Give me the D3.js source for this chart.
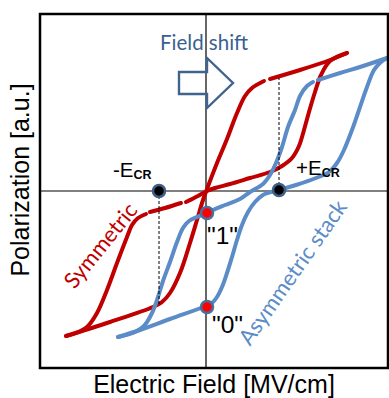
<!DOCTYPE html>
<html>
<head>
<meta charset="utf-8">
<script src="https://cdn.jsdelivr.net/npm/d3@7"></script>
<style>
  html, body { margin: 0; padding: 0; background: #fff; }
  svg { display: block; }
</style>
</head>
<body>
<svg id="chart" width="389" height="398"></svg>
<script>
// Loops, [field, polarization] in arbitrary units.
// Each curve is split into segments where the original drawing had small breaks.
const symmetricRise = [
  [[-1.40, -1.45], [-0.96, -1.31], [-0.53, -1.16], [-0.44, -1.11], [-0.36, -1.02],
   [-0.26, -0.82], [-0.16, -0.52], [-0.09, -0.29], [-0.03, -0.09], [0.01, 0.02],
   [0.11, 0.28], [0.21, 0.52], [0.31, 0.78], [0.39, 0.95], [0.46, 1.03], [0.58, 1.10]],
  [[0.64, 1.12], [0.94, 1.21], [1.24, 1.31], [1.41, 1.38]]
];
const symmetricFall = [
  [[1.41, 1.38], [1.24, 1.30], [1.15, 1.16], [1.09, 0.99], [1.03, 0.79], [0.98, 0.61],
   [0.93, 0.45], [0.86, 0.33], [0.76, 0.25], [0.64, 0.19], [0.44, 0.13], [0.24, 0.07],
   [0.09, 0.03], [0.01, 0.00], [-0.08, -0.05], [-0.20, -0.11]],
  [[-0.25, -0.12], [-0.41, -0.17], [-0.56, -0.21]],
  [[-0.60, -0.23], [-0.68, -0.27], [-0.74, -0.34], [-0.79, -0.46], [-0.89, -0.72],
   [-0.99, -0.99], [-1.09, -1.22], [-1.19, -1.36], [-1.30, -1.42], [-1.40, -1.45]]
];
const asymRise = [
  [[-0.88, -1.46], [-0.66, -1.39], [-0.36, -1.28], [0.00, -1.15], [0.06, -1.12],
   [0.11, -1.06], [0.16, -0.96], [0.21, -0.82], [0.26, -0.66], [0.31, -0.49],
   [0.36, -0.34], [0.42, -0.21], [0.49, -0.11], [0.57, -0.04], [0.73, 0.01],
   [0.90, 0.06], [1.10, 0.13], [1.23, 0.19], [1.31, 0.28], [1.38, 0.41], [1.46, 0.61],
   [1.53, 0.81], [1.61, 1.04], [1.68, 1.21], [1.75, 1.29], [1.81, 1.33]]
];
const asymFall = [
  [[1.81, 1.33], [1.54, 1.24], [1.34, 1.18], [1.12, 1.11]],
  [[1.07, 1.09], [1.01, 1.05], [0.94, 0.95], [0.89, 0.81], [0.82, 0.64], [0.76, 0.44],
   [0.70, 0.28], [0.64, 0.16], [0.57, 0.07], [0.44, -0.01], [0.34, -0.08], [0.19, -0.14],
   [0.07, -0.19], [0.01, -0.22], [-0.09, -0.26], [-0.17, -0.30], [-0.23, -0.37],
   [-0.29, -0.51], [-0.36, -0.71], [-0.43, -0.90], [-0.48, -1.06], [-0.54, -1.22],
   [-0.62, -1.35], [-0.71, -1.41], [-0.88, -1.46]]
];

// coercive field markers and read states
const coercive = [
  { e: -0.47, p: 0, pEnd: -1.15, name: '-E', sub: 'CR', lx: -0.93, ly: 0.14 },
  { e: 0.73, p: 0.01, pEnd: 1.13, name: '+E', sub: 'CR', lx: 0.90, ly: 0.16 }
];
const states = [
  { e: 0.01, p: -0.22, label: '"1"', lx: 0.01, ly: -0.53 },
  { e: 0.01, p: -1.16, label: '"0"', lx: 0.06, ly: -1.42 }
];

const fieldRange = [-1.66, 1.82];
const polRange = [-1.77, 1.77];

const svg = d3.select('#chart');
const x = d3.scaleLinear().domain(fieldRange).range([40, 388]);
const y = d3.scaleLinear().domain(polRange).range([368, 14]);

const RED = '#c00000';
const BLUE = '#5b8cc8';
const DARKBLUE = '#3a5f92';

// zero lines
svg.append('line')
  .attr('x1', x(0)).attr('x2', x(0))
  .attr('y1', y(polRange[0])).attr('y2', y(polRange[1]))
  .attr('stroke', '#000').attr('stroke-width', 1.2);
svg.append('line')
  .attr('x1', x(fieldRange[0])).attr('x2', x(fieldRange[1]))
  .attr('y1', y(0)).attr('y2', y(0))
  .attr('stroke', '#000').attr('stroke-width', 1.2);

// field shift arrow (outline only)
const arrowTail = -0.27, arrowNeck = 0.01, arrowTip = 0.27;
const arrowMid = 1.08, shaftHalf = 0.11, headHalf = 0.25;
const arrowPts = [
  [arrowTail, arrowMid + shaftHalf], [arrowNeck, arrowMid + shaftHalf],
  [arrowNeck, arrowMid + headHalf], [arrowTip, arrowMid],
  [arrowNeck, arrowMid - headHalf], [arrowNeck, arrowMid - shaftHalf],
  [arrowTail, arrowMid - shaftHalf]
];
svg.append('polygon')
  .attr('points', arrowPts.map((d) => `${x(d[0])},${y(d[1])}`).join(' '))
  .attr('fill', 'none')
  .attr('stroke', '#41648f')
  .attr('stroke-width', 2.4)
  .attr('stroke-linejoin', 'miter');

svg.append('text')
  .attr('x', x(-0.46)).attr('y', y(1.41))
  .attr('font-family', 'Lato, sans-serif')
  .attr('font-size', 20.5)
  .attr('fill', DARKBLUE)
  .text('Field shift');

// loops
const line = d3.line()
  .x((d) => x(d[0]))
  .y((d) => y(d[1]))
  .curve(d3.curveCatmullRom.alpha(0.5));

const loops = [
  { segs: symmetricRise, color: RED },
  { segs: symmetricFall, color: RED },
  { segs: asymRise, color: BLUE },
  { segs: asymFall, color: BLUE }
];
loops.forEach((l) => {
  svg.append('g')
    .selectAll('path')
    .data(l.segs)
    .join('path')
    .attr('d', line)
    .attr('fill', 'none')
    .attr('stroke', l.color)
    .attr('stroke-width', 4)
    .attr('stroke-linecap', 'round')
    .attr('stroke-linejoin', 'round');
});

// dashed guides from the coercive points
svg.append('g')
  .selectAll('line')
  .data(coercive)
  .join('line')
  .attr('x1', (d) => x(d.e)).attr('x2', (d) => x(d.e))
  .attr('y1', (d) => y(d.p)).attr('y2', (d) => y(d.pEnd))
  .attr('stroke', '#000')
  .attr('stroke-width', 1)
  .attr('stroke-dasharray', '3,2');

svg.append('g')
  .selectAll('circle')
  .data(coercive)
  .join('circle')
  .attr('cx', (d) => x(d.e)).attr('cy', (d) => y(d.p))
  .attr('r', 6)
  .attr('fill', '#000')
  .attr('stroke', '#3e5f88')
  .attr('stroke-width', 2.5);

svg.append('g')
  .selectAll('circle')
  .data(states)
  .join('circle')
  .attr('cx', (d) => x(d.e)).attr('cy', (d) => y(d.p))
  .attr('r', 6)
  .attr('fill', '#ff0000')
  .attr('stroke', '#4a6f9e')
  .attr('stroke-width', 2.5);

// labels
const ecr = svg.append('g')
  .selectAll('text')
  .data(coercive)
  .join('text')
  .attr('x', (d) => x(d.lx)).attr('y', (d) => y(d.ly))
  .attr('font-family', 'Liberation Sans, Arial, sans-serif')
  .attr('font-size', 20.5)
  .attr('fill', '#000');
ecr.append('tspan').text((d) => d.name);
ecr.append('tspan')
  .attr('dy', 2)
  .attr('font-size', 12.5)
  .attr('font-weight', 'bold')
  .text((d) => d.sub);

svg.append('g')
  .selectAll('text')
  .data(states)
  .join('text')
  .attr('x', (d) => x(d.lx)).attr('y', (d) => y(d.ly))
  .attr('font-family', 'Liberation Sans, Arial, sans-serif')
  .attr('font-size', 24.5)
  .attr('fill', '#000')
  .text((d) => d.label);

svg.append('text')
  .attr('transform', `translate(${x(-1.06)},${y(-0.54)}) rotate(-51)`)
  .attr('text-anchor', 'middle')
  .attr('dominant-baseline', 'central')
  .attr('font-family', 'Lato, sans-serif')
  .attr('font-size', 22)
  .attr('fill', RED)
  .text('Symmetric');

svg.append('text')
  .attr('transform', `translate(${x(0.86)},${y(-0.81)}) rotate(-55)`)
  .attr('text-anchor', 'middle')
  .attr('dominant-baseline', 'central')
  .attr('font-family', 'Lato, sans-serif')
  .attr('font-size', 22)
  .attr('fill', BLUE)
  .text('Asymmetric stack');

// frame
svg.append('rect')
  .attr('x', x(fieldRange[0])).attr('y', y(polRange[1]))
  .attr('width', x(fieldRange[1]) - x(fieldRange[0]))
  .attr('height', y(polRange[0]) - y(polRange[1]))
  .attr('fill', 'none')
  .attr('stroke', '#000')
  .attr('stroke-width', 2.5);

// axis titles
svg.append('text')
  .attr('x', (x(fieldRange[0]) + x(fieldRange[1])) / 2)
  .attr('y', 393)
  .attr('text-anchor', 'middle')
  .attr('font-family', 'Liberation Sans, Arial, sans-serif')
  .attr('font-size', 25)
  .attr('fill', '#000')
  .text('Electric Field [MV/cm]');

svg.append('text')
  .attr('transform', `translate(29,180) rotate(-90)`)
  .attr('text-anchor', 'middle')
  .attr('font-family', 'Liberation Sans, Arial, sans-serif')
  .attr('font-size', 25)
  .attr('fill', '#000')
  .text('Polarization [a.u.]');
</script>
</body>
</html>
